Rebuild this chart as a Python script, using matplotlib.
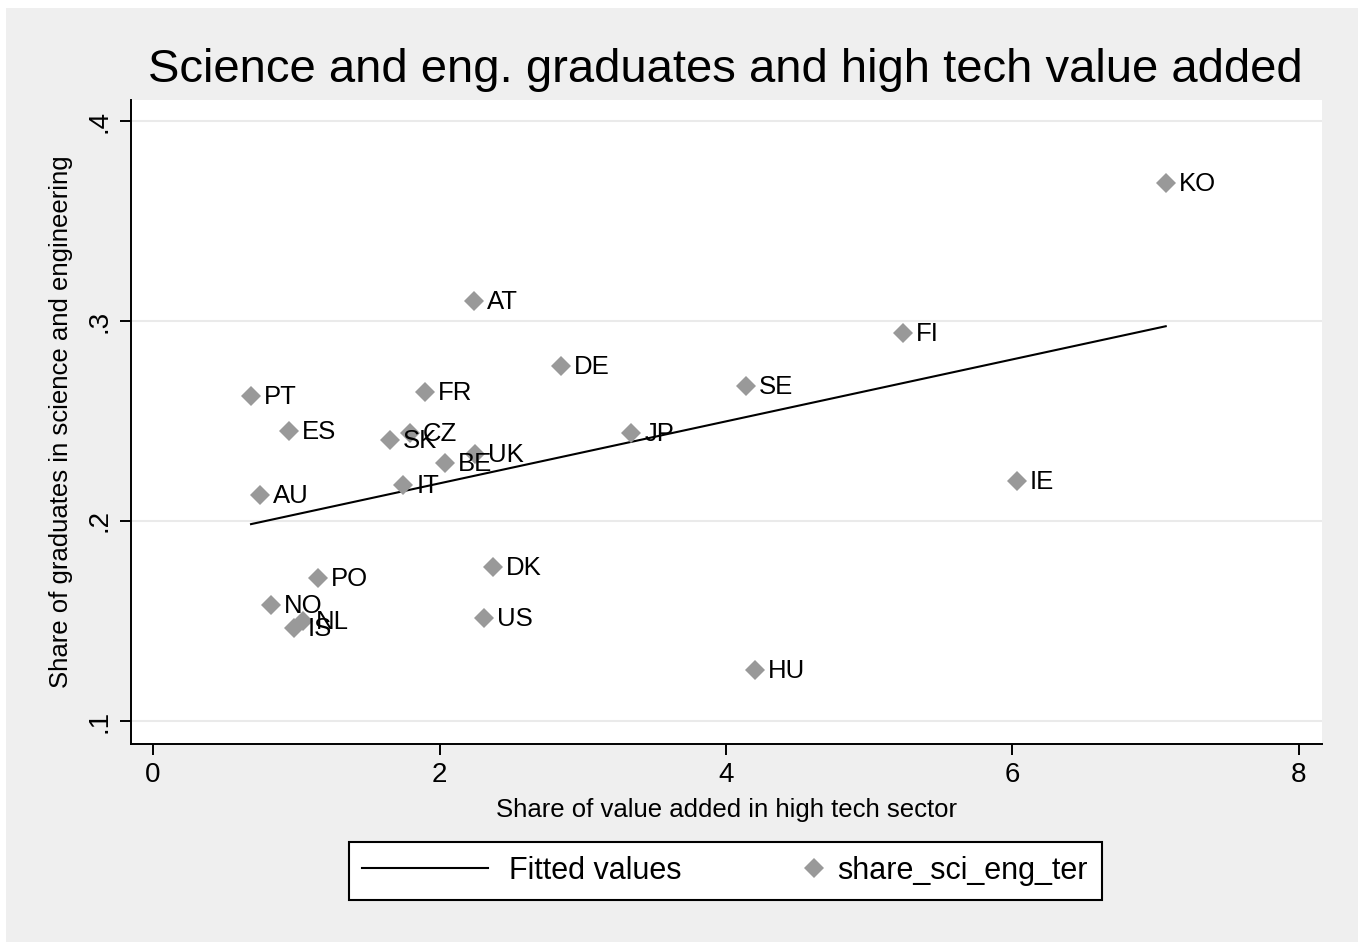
import matplotlib.pyplot as plt
import numpy as np
from matplotlib.patches import Rectangle
from matplotlib.legend_handler import HandlerLine2D

# dados
paises = ["KO", "FI", "IE", "SE", "JP", "HU", "AT", "DE", "FR", "CZ", "SK", "BE",
          "UK", "IT", "DK", "US", "PT", "ES", "AU", "PO", "NO", "NL", "IS"]
valor_adicionado = [7.07, 5.236, 6.03, 4.14, 3.337, 4.20, 2.241, 2.848, 1.899, 1.794,
                    1.654, 2.038, 2.248, 1.745, 2.373, 2.311, 0.684, 0.949, 0.747,
                    1.152, 0.824, 1.047, 0.984]
share_sci_eng = [0.369, 0.294, 0.220, 0.2675, 0.244, 0.1255, 0.310, 0.2775, 0.2645,
                 0.244, 0.2405, 0.229, 0.2335, 0.218, 0.177, 0.1515, 0.2625, 0.245,
                 0.213, 0.1715, 0.158, 0.150, 0.1465]

x_ticks = [0, 2, 4, 6, 8]
y_ticks = [0.1, 0.2, 0.3, 0.4]
y_tick_labels = [".1", ".2", ".3", ".4"]

plt.rcParams['font.family'] = ['Liberation Sans', 'DejaVu Sans']


class MarcadorDireita(HandlerLine2D):
    # marcador encostado no texto, como no Stata
    def get_xdata(self, legend, xdescent, ydescent, width, height, fontsize):
        m = -xdescent + width - 0.05 * fontsize
        return np.array([m, m]), np.array([m])


fig = plt.figure(figsize=(13.65, 9.42), dpi=100, facecolor="white")
fig.patches.append(Rectangle((6 / 1365, 0), 1352 / 1365, 934 / 942,
                             transform=fig.transFigure, facecolor="#efefef",
                             edgecolor="none", zorder=-10))

ax = fig.add_axes([131 / 1365, 1 - 744 / 942, (1322 - 131) / 1365, (744 - 100) / 942])
ax.set_facecolor("white")

# reta ajustada (minimos quadrados)
x = np.array(valor_adicionado)
y = np.array(share_sci_eng)
b, a = np.polyfit(x, y, 1)
xs = np.array([x.min(), x.max()])
linha, = ax.plot(xs, a + b * xs, color="black", lw=1.5, zorder=3, label="Fitted values")

pontos, = ax.plot(x, y, linestyle="none", marker="D", markersize=10.5, color="#999999",
                  markeredgewidth=0, zorder=4, label="share_sci_eng_ter")
for p, xi, yi in zip(paises, x, y):
    ax.annotate(p, (xi, yi), xytext=(9.5, -1), textcoords="offset points",
                va="center", ha="left", fontsize=18.5, zorder=5)

ax.set_xlim(-0.154, 8.161)
ax.set_ylim(0.0885, 0.4105)
ax.set_xticks(x_ticks)
ax.set_yticks(y_ticks)
ax.set_yticklabels(y_tick_labels, rotation=90, va="center")
ax.tick_params(axis="both", direction="out", length=8, width=1.4, labelsize=20, pad=5)
ax.grid(axis="y", color="#eaeaea", lw=1.5)
ax.set_axisbelow(True)
for s in ["top", "right"]:
    ax.spines[s].set_visible(False)
for s in ["left", "bottom"]:
    ax.spines[s].set_linewidth(1.4)

ax.set_xlabel("Share of value added in high tech sector", fontsize=18.5, va="center")
ax.xaxis.set_label_coords(0.5, -0.1025)
ax.set_ylabel("Share of graduates in science and engineering", fontsize=18.5, va="center")
ax.yaxis.set_label_coords(-0.0588, 0.5)
fig.text(725 / 1365, 1 - 70 / 942, "Science and eng. graduates and high tech value added",
         ha="center", va="center", fontsize=34)

leg = fig.legend([linha, pontos], ["Fitted values", "share_sci_eng_ter"],
                 loc="center", bbox_to_anchor=(725 / 1365, 1 - 871 / 942), ncol=2,
                 frameon=True, fancybox=False, edgecolor="black", framealpha=1,
                 handlelength=4.1, columnspacing=0.3, borderpad=0.45, handletextpad=0.7,
                 handler_map={pontos: MarcadorDireita(numpoints=1)},
                 prop={"size": 22})
leg.get_frame().set_linewidth(1.5)

plt.savefig("out.png", dpi=100, facecolor=fig.get_facecolor())
